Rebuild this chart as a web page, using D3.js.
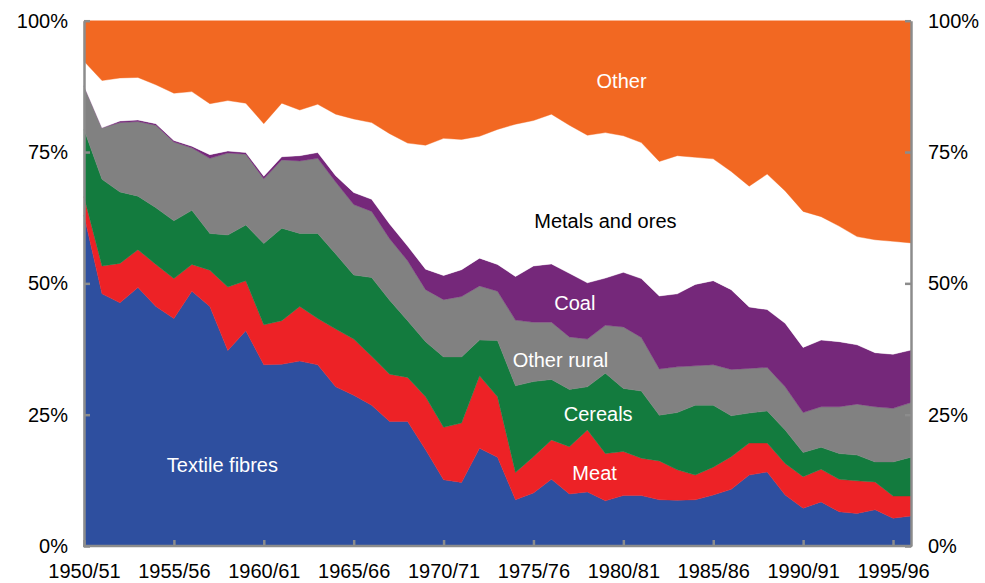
<!DOCTYPE html>
<html>
<head>
<meta charset="utf-8">
<script src="https://cdn.jsdelivr.net/npm/d3@7"></script>
<style>
  body { margin: 0; background: #ffffff; }
  svg { display: block; font-family: Arial, "Liberation Sans", sans-serif; }
</style>
</head>
<body>
<svg class="chart" width="985" height="583"></svg>
<script>
// DATA (share of total, per cent)
var years = [1950,1951,1952,1953,1954,1955,1956,1957,1958,1959,
             1960,1961,1962,1963,1964,1965,1966,1967,1968,1969,
             1970,1971,1972,1973,1974,1975,1976,1977,1978,1979,
             1980,1981,1982,1983,1984,1985,1986,1987,1988,1989,
             1990,1991,1992,1993,1994,1995,1996];

var textile = [63.0,48.0,46.3,49.2,45.6,43.3,48.5,45.6,37.2,41.0,
               34.5,34.6,35.2,34.5,30.3,28.7,26.8,23.7,23.7,18.3,
               12.6,12.1,18.6,16.9,8.8,10.1,12.7,9.9,10.3,8.6,
               9.6,9.6,8.8,8.7,8.8,9.7,10.8,13.5,14.1,9.7,
               7.2,8.4,6.5,6.2,6.9,5.3,5.7];
var meat = [3.5,5.3,7.5,7.2,8.0,7.6,5.1,6.9,12.1,9.5,
            7.6,8.3,10.4,8.8,11.0,10.7,9.3,9.0,8.4,10.1,
            10.0,11.3,13.8,11.5,5.2,6.9,7.5,9.0,11.8,9.0,
            8.4,7.1,7.4,5.8,4.7,5.3,6.2,6.1,5.5,6.0,
            6.0,6.2,6.2,6.2,5.3,4.2,3.8];
var cereals = [12.8,16.5,13.6,10.2,10.8,11.0,10.3,7.0,9.9,10.6,
               15.5,17.6,13.9,16.2,14.3,12.2,15.0,14.1,10.8,10.5,
               13.4,12.6,6.8,10.7,16.5,14.3,11.5,10.9,8.2,15.3,
               12.0,12.8,8.7,10.9,13.3,11.8,7.8,5.7,6.1,6.4,
               4.6,4.2,4.9,4.9,3.8,6.5,7.4];
var otherRural = [8.3,9.8,13.2,14.2,15.7,15.0,11.9,14.3,15.6,13.5,
                  12.3,13.0,13.8,14.3,13.7,13.4,12.6,11.7,11.4,9.9,
                  10.9,11.5,10.3,9.4,12.5,11.3,10.9,10.0,9.1,9.1,
                  11.7,10.2,8.8,8.7,7.5,7.7,8.8,8.5,8.3,8.2,
                  7.6,7.7,8.9,9.7,10.5,10.2,10.4];
var coal = [0.0,0.0,0.3,0.3,0.3,0.3,0.3,0.7,0.4,0.3,
            0.5,0.6,1.0,1.1,1.2,2.3,2.3,2.8,2.8,3.9,
            4.6,5.1,5.3,5.1,8.3,10.7,11.1,12.1,10.7,9.0,
            10.4,11.2,13.9,13.9,15.5,16.0,15.2,11.7,11.0,12.1,
            12.4,12.7,12.4,11.3,10.3,10.3,10.0];
var metals = [4.7,9.0,8.2,8.1,7.4,9.0,10.4,9.7,9.6,9.4,
              10.0,10.2,8.7,9.2,11.7,14.0,14.6,17.2,19.6,23.6,
              26.1,24.8,23.2,25.7,29.0,27.7,28.5,28.2,28.1,27.7,
              26.0,25.9,25.6,26.3,24.2,23.2,22.5,23.0,25.8,25.2,
              25.9,23.5,22.0,20.6,21.5,21.5,20.4];
var other = [7.7,11.4,10.9,10.8,12.2,13.8,13.5,15.8,15.2,15.7,
             19.6,15.7,17.0,15.9,17.8,18.7,19.4,21.5,23.3,23.7,
             22.4,22.6,22.0,20.7,19.7,19.0,17.8,19.9,21.8,21.3,
             21.9,23.2,26.8,25.7,26.0,26.3,28.7,31.5,29.2,32.4,
             36.3,37.3,39.1,41.1,41.7,42.0,42.3];

var xTicks = [1950,1955,1960,1965,1970,1975,1980,1985,1990,1995];
var yTicks = [0,25,50,75,100];

// series, bottom to top
var series = [
  {key: "textile",    values: textile,    color: "#2e4f9f", label: "Textile fibres", labelColor: "#fff", lx: 1957.7, ly: 15.4},
  {key: "meat",       values: meat,       color: "#ed2226", label: "Meat",           labelColor: "#fff", lx: 1978.4, ly: 13.9},
  {key: "cereals",    values: cereals,    color: "#137b3e", label: "Cereals",        labelColor: "#fff", lx: 1978.6, ly: 25.1},
  {key: "otherRural", values: otherRural, color: "#818181", label: "Other rural",    labelColor: "#fff", lx: 1976.5, ly: 35.4},
  {key: "coal",       values: coal,       color: "#75287a", label: "Coal",           labelColor: "#fff", lx: 1977.3, ly: 46.2},
  {key: "metals",     values: metals,     color: "#ffffff", label: "Metals and ores",labelColor: "#000", lx: 1979.0, ly: 61.9},
  {key: "other",      values: other,      color: "#f26822", label: "Other",          labelColor: "#fff", lx: 1979.9, ly: 88.5}
];

// geometry
var gwidth = 985, gheight = 583;
var plot = {left: 84, right: 911, top: 20.7, bottom: 546};

var svg = d3.select(".chart");

var x = d3.scaleLinear()
  .domain([d3.min(years), d3.max(years)])
  .range([plot.left, plot.right]);
var y = d3.scaleLinear()
  .domain([0, 100])
  .range([plot.bottom, plot.top]);

// build table for the stack
var table = years.map(function(yr, i) {
  var row = {year: yr};
  series.forEach(function(s) { row[s.key] = s.values[i]; });
  return row;
});

var stack = d3.stack()
  .keys(series.map(function(s) { return s.key; }));
var layers = stack(table);

var area = d3.area()
  .x(function(d) { return x(d.data.year); })
  .y0(function(d) { return y(d[0]); })
  .y1(function(d) { return y(d[1]); });

svg.append("g")
  .selectAll("path")
  .data(layers)
  .enter()
  .append("path")
  .attr("d", area)
  .attr("fill", function(d, i) { return series[i].color; })
  .attr("stroke", function(d, i) { return series[i].color; })
  .attr("stroke-width", 0.4);

// series labels
svg.append("g")
  .selectAll("text")
  .data(series)
  .enter()
  .append("text")
  .attr("x", function(d) { return x(d.lx); })
  .attr("y", function(d) { return y(d.ly); })
  .attr("dy", "0.35em")
  .attr("text-anchor", "middle")
  .attr("font-size", 20)
  .attr("fill", function(d) { return d.labelColor; })
  .text(function(d) { return d.label; });

// axes
var axisColor = "#8c8c8c";
var fmtPct = function(v) { return v + "%"; };
var fmtYear = function(v) { return v + "/" + String((v + 1) % 100).padStart(2, "0"); };

var styleAxis = function(g) {
  g.select(".domain").attr("stroke", axisColor).attr("stroke-width", 2.5);
  g.selectAll(".tick line").attr("stroke", axisColor).attr("stroke-width", 2.5);
  g.selectAll(".tick text")
    .attr("fill", "#000")
    .attr("font-size", 20)
    .attr("font-family", "Arial, 'Liberation Sans', sans-serif");
};

var yLeft = svg.append("g")
  .attr("transform", "translate(" + plot.left + ",0)")
  .call(d3.axisLeft(y).tickValues(yTicks).tickFormat(fmtPct).tickSizeInner(-6).tickSizeOuter(0).tickPadding(16));
styleAxis(yLeft);

var yRight = svg.append("g")
  .attr("transform", "translate(" + plot.right + ",0)")
  .call(d3.axisRight(y).tickValues(yTicks).tickFormat(fmtPct).tickSizeInner(-6).tickSizeOuter(0).tickPadding(17));
styleAxis(yRight);

var xAxis = svg.append("g")
  .attr("transform", "translate(0," + plot.bottom + ")")
  .call(d3.axisBottom(x).tickValues(xTicks).tickFormat(fmtYear).tickSizeInner(-6).tickSizeOuter(0).tickPadding(18));
styleAxis(xAxis);
xAxis.select(".domain").attr("d", "M" + (plot.left - 1) + ",0H" + (plot.right + 1));

// keep the first year label inside the picture
xAxis.selectAll(".tick text")
  .attr("dx", function(d) {
    var w = this.getComputedTextLength();
    var cx = x(d);
    return (cx - w / 2 < 4) ? (4 + w / 2 - cx) : 0;
  });
</script>
</body>
</html>
